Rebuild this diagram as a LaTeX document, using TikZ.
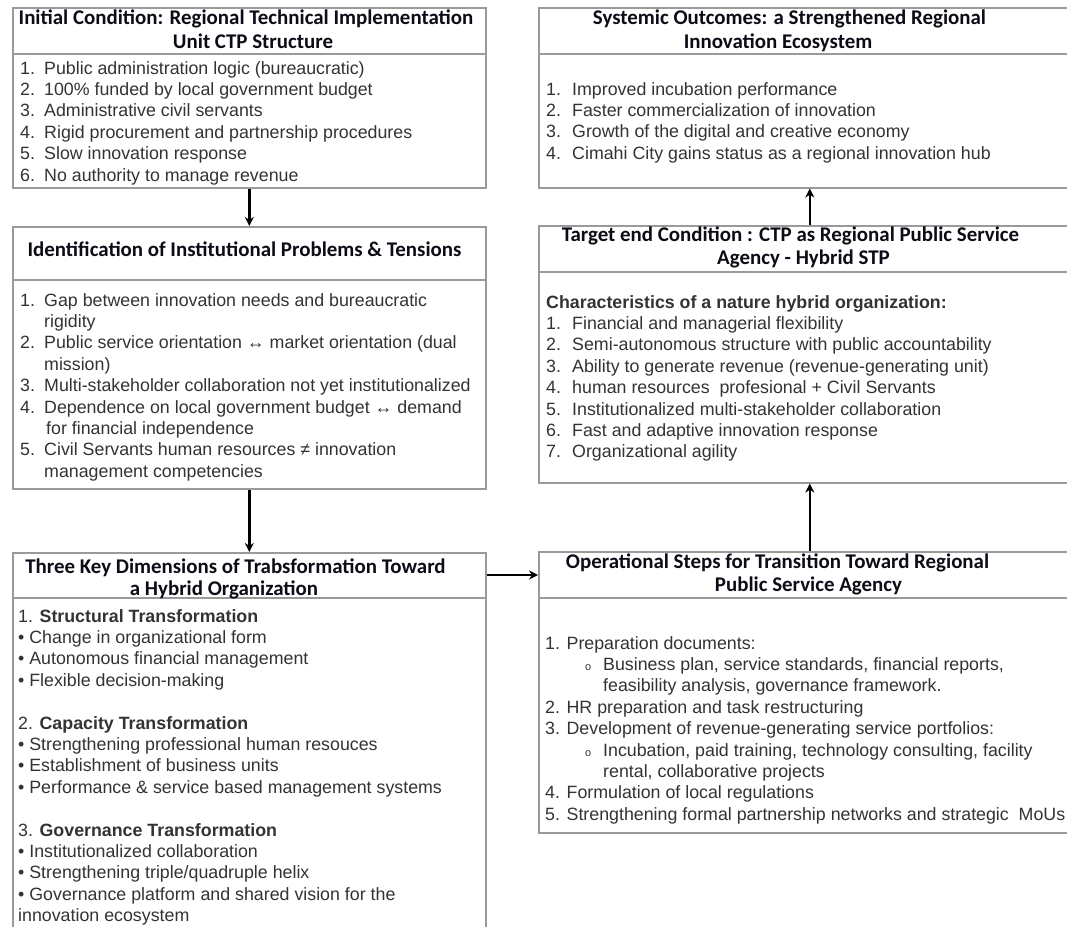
\documentclass[tikz,border=0pt]{standalone}
\usepackage{fontspec}
\setmainfont{Liberation Sans}
\newfontfamily\hdfam{Carlito}
\usetikzlibrary{arrows.meta}
\definecolor{boxgray}{HTML}{9A9A9A}
\definecolor{bodytxt}{HTML}{333333}
\definecolor{hdtxt}{HTML}{0C0C16}
\tikzset{
  box/.style={draw=boxgray, line width=1.6pt, rectangle, inner sep=0pt, anchor=north west},
  sepline/.style={draw=boxgray, line width=1.6pt},
  hd/.style={font=\hdfam\bfseries\fontsize{20.9}{25}\selectfont, text=hdtxt, anchor=base, inner sep=0pt},
  bd/.style={font=\fontsize{17.8}{21}\selectfont, text=bodytxt, anchor=base west, inner sep=0pt},
  bdb/.style={bd, font=\bfseries\fontsize{17.8}{21}\selectfont},
  ob/.style={font=\fontsize{11}{13}\selectfont, text=bodytxt, anchor=base west, inner sep=0pt},
  arr/.style={draw=black, line width=2.6pt, -{Stealth[length=9pt,width=9pt]}}
}
\begin{document}
\begin{tikzpicture}[x=1pt,y=-1pt]
\useasboundingbox (0,0) rectangle (1067,926);
\fill[white] (0,0) rectangle (1067,926);

% ---------- boxes ----------
\node[box, minimum width=473pt, minimum height=180pt] (A) at (12,7) {};
\node[box, minimum width=473pt, minimum height=262pt] (B) at (12,226) {};
\node[box, minimum width=473pt, minimum height=400pt] (C) at (12,552) {};
\node[box, minimum width=542pt, minimum height=281pt] (D) at (538,551) {};
\node[box, minimum width=542pt, minimum height=257pt] (E) at (538,225) {};
\node[box, minimum width=542pt, minimum height=180pt] (F) at (538,7) {};

% header separators
\draw[sepline] (A.west |- 0,54) -- (A.east |- 0,54);
\draw[sepline] (B.west |- 0,280) -- (B.east |- 0,280);
\draw[sepline] (C.west |- 0,598) -- (C.east |- 0,598);
\draw[sepline] (D.west |- 0,598) -- (D.east |- 0,598);
\draw[sepline] (E.west |- 0,272) -- (E.east |- 0,272);
\draw[sepline] (F.west |- 0,54) -- (F.east |- 0,54);

% ---------- connectors ----------
\draw[arr] (A.south) -- (B.north);
\draw[arr] (B.south) -- (C.north);
\draw[arr] (C.east |- 0,575) -- (D.west |- 0,575);
\draw[arr] (D.north) -- (E.south);
\draw[arr] (E.north) -- (F.south);

% ---------- A ----------
\node[hd] (Ah1) at (246,24) {Initial Condition: Regional Technical Implementation};
\node[hd] (Ah2) at (253,48) {Unit CTP Structure};
\node[bd] (An1) at (20,74) {1.};
\node[bd] (At1) at (44,74) {Public administration logic (bureaucratic)};
\node[bd] (An2) at (20,95.4) {2.};
\node[bd] (At2) at (44,95.4) {100\% funded by local government budget};
\node[bd] (An3) at (20,116.8) {3.};
\node[bd] (At3) at (44,116.8) {Administrative civil servants};
\node[bd] (An4) at (20,138.2) {4.};
\node[bd] (At4) at (44,138.2) {Rigid procurement and partnership procedures};
\node[bd] (An5) at (20,159.6) {5.};
\node[bd] (At5) at (44,159.6) {Slow innovation response};
\node[bd] (An6) at (20,181) {6.};
\node[bd] (At6) at (44,181) {No authority to manage revenue};

% ---------- B ----------
\node[hd] (Bh1) at (244.5,256) {Identification of Institutional Problems \& Tensions};
\node[bd] (Bn1) at (20,306) {1.};
\node[bd] (Bt1a) at (44,306) {Gap between innovation needs and bureaucratic};
\node[bd] (Bt1b) at (44,327.4) {rigidity};
\node[bd] (Bn2) at (20,348.8) {2.};
\node[bd] (Bt2a) at (44,348.8) {Public service orientation ↔ market orientation (dual};
\node[bd] (Bt2b) at (44,370.2) {mission)};
\node[bd] (Bn3) at (20,391.6) {3.};
\node[bd] (Bt3) at (44,391.6) {Multi-stakeholder collaboration not yet institutionalized};
\node[bd] (Bn4) at (20,413) {4.};
\node[bd] (Bt4a) at (44,413) {Dependence on local government budget ↔ demand};
\node[bd] (Bt4b) at (46,434.4) {for financial independence};
\node[bd] (Bn5) at (20,455.8) {5.};
\node[bd] (Bt5a) at (44,455.8) {Civil Servants human resources ≠ innovation};
\node[bd] (Bt5b) at (44,477.2) {management competencies};

% ---------- C ----------
\node[hd] (Ch1) at (235.5,573) {Three Key Dimensions of Trabsformation Toward};
\node[hd] (Ch2) at (224,595) {a Hybrid Organization};
\node[bd] (Cs1) at (18,622) {1. \textbf{Structural Transformation}};
\node[bd] (Cb1) at (18,643.4) {• Change in organizational form};
\node[bd] (Cb2) at (18,664.8) {• Autonomous financial management};
\node[bd] (Cb3) at (18,686.2) {• Flexible decision-making};
\node[bd] (Cs2) at (18,729) {2. \textbf{Capacity Transformation}};
\node[bd] (Cb4) at (18,750.4) {• Strengthening professional human resouces};
\node[bd] (Cb5) at (18,771.8) {• Establishment of business units};
\node[bd] (Cb6) at (18,793.2) {• Performance \& service based management systems};
\node[bd] (Cs3) at (18,836) {3. \textbf{Governance Transformation}};
\node[bd] (Cb7) at (18,857.4) {• Institutionalized collaboration};
\node[bd] (Cb8) at (18,878.8) {• Strengthening triple/quadruple helix};
\node[bd] (Cb9) at (18,900.2) {• Governance platform and shared vision for the};
\node[bd] (Cb9b) at (18,921.6) {innovation ecosystem};

% ---------- D ----------
\node[hd] (Dh1) at (777.5,568) {Operational Steps for Transition Toward Regional};
\node[hd] (Dh2) at (808.5,591) {Public Service Agency};
\node[bd] (Dt1) at (545,649) {1. Preparation documents:};
\node[ob] (Do1) at (585,670.4) {o};
\node[bd] (Dt1a) at (603,670.4) {Business plan, service standards, financial reports,};
\node[bd] (Dt1b) at (603,691.8) {feasibility analysis, governance framework.};
\node[bd] (Dt2) at (545,713.2) {2. HR preparation and task restructuring};
\node[bd] (Dt3) at (545,734.6) {3. Development of revenue-generating service portfolios:};
\node[ob] (Do2) at (585,756) {o};
\node[bd] (Dt3a) at (603,756) {Incubation, paid training, technology consulting, facility};
\node[bd] (Dt3b) at (603,777.4) {rental, collaborative projects};
\node[bd] (Dt4) at (545,798.8) {4. Formulation of local regulations};
\node[bd] (Dt5) at (545,820.2) {5. Strengthening formal partnership networks and strategic\ \ MoUs};

% ---------- E ----------
\node[hd] (Eh1) at (790.5,241) {Target end Condition : CTP as Regional Public Service};
\node[hd] (Eh2) at (803.5,264) {Agency - Hybrid STP};
\node[bdb] (Ec) at (546,308) {Characteristics of a nature hybrid organization:};
\node[bd] (En1) at (546,329.4) {1.};
\node[bd] (Et1) at (572,329.4) {Financial and managerial flexibility};
\node[bd] (En2) at (546,350.8) {2.};
\node[bd] (Et2) at (572,350.8) {Semi-autonomous structure with public accountability};
\node[bd] (En3) at (546,372.2) {3.};
\node[bd] (Et3) at (572,372.2) {Ability to generate revenue (revenue-generating unit)};
\node[bd] (En4) at (546,393.6) {4.};
\node[bd] (Et4) at (572,393.6) {human resources\ \ profesional + Civil Servants};
\node[bd] (En5) at (546,415) {5.};
\node[bd] (Et5) at (572,415) {Institutionalized multi-stakeholder collaboration};
\node[bd] (En6) at (546,436.4) {6.};
\node[bd] (Et6) at (572,436.4) {Fast and adaptive innovation response};
\node[bd] (En7) at (546,457.8) {7.};
\node[bd] (Et7) at (572,457.8) {Organizational agility};

% ---------- F ----------
\node[hd] (Fh1) at (789.5,24) {Systemic Outcomes: a Strengthened Regional};
\node[hd] (Fh2) at (778,48) {Innovation Ecosystem};
\node[bd] (Fn1) at (546,95) {1.};
\node[bd] (Ft1) at (572,95) {Improved incubation performance};
\node[bd] (Fn2) at (546,116.4) {2.};
\node[bd] (Ft2) at (572,116.4) {Faster commercialization of innovation};
\node[bd] (Fn3) at (546,137.8) {3.};
\node[bd] (Ft3) at (572,137.8) {Growth of the digital and creative economy};
\node[bd] (Fn4) at (546,159.2) {4.};
\node[bd] (Ft4) at (572,159.2) {Cimahi City gains status as a regional innovation hub};
\end{tikzpicture}
\end{document}
